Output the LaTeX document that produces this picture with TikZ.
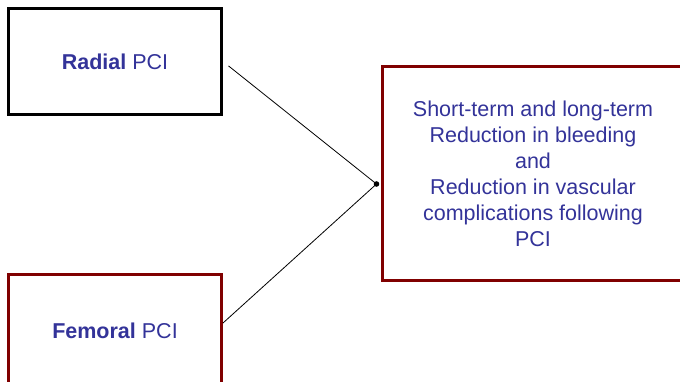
\documentclass[tikz,border=0pt]{standalone}
\usepackage{fontspec}
\setmainfont{Liberation Sans}
\usepackage{xcolor}
\usetikzlibrary{arrows}
\usetikzlibrary{math}
\definecolor{mydarkred}{RGB}{128,0,0}
\definecolor{myblue}{RGB}{51,51,153}
\tikzset{
armbox/.style={draw, line width=3pt, minimum width=\bw pt, minimum height=\bh pt, align=center, text=myblue, font=\fontsize{21.5}{26}\selectfont},
link/.style={line width=0.8pt},
}

\begin{document}
\begin{tikzpicture}[x=1pt,y=-1pt]
\tikzmath{
\bw=213;
\bh=106;
}
\useasboundingbox (0,0) rectangle (680,381);
%arms
\node[armbox, draw=black] (radial) at (115,61.5) {\textbf{Radial} PCI};
\node[armbox, draw=mydarkred, minimum height=114pt] (femoral) at (115,331) {\textbf{Femoral} PCI};
%outcome
\node[armbox, draw=mydarkred, minimum width=302pt, minimum height=214pt] (outcome) at (533,173.5) {Short-term and long-term\\Reduction in bleeding\\and\\Reduction in vascular\\complications following\\PCI};
\coordinate (jn) at ([xshift=-4pt,yshift=-10.5pt]outcome.west);
%links
\draw[link, shorten <=7pt] (radial.east) -- (jn);
\draw[link] ([yshift=8pt]femoral.east) -- (jn);
\fill (jn) circle (2.8pt);
\end{tikzpicture}
\end{document}
